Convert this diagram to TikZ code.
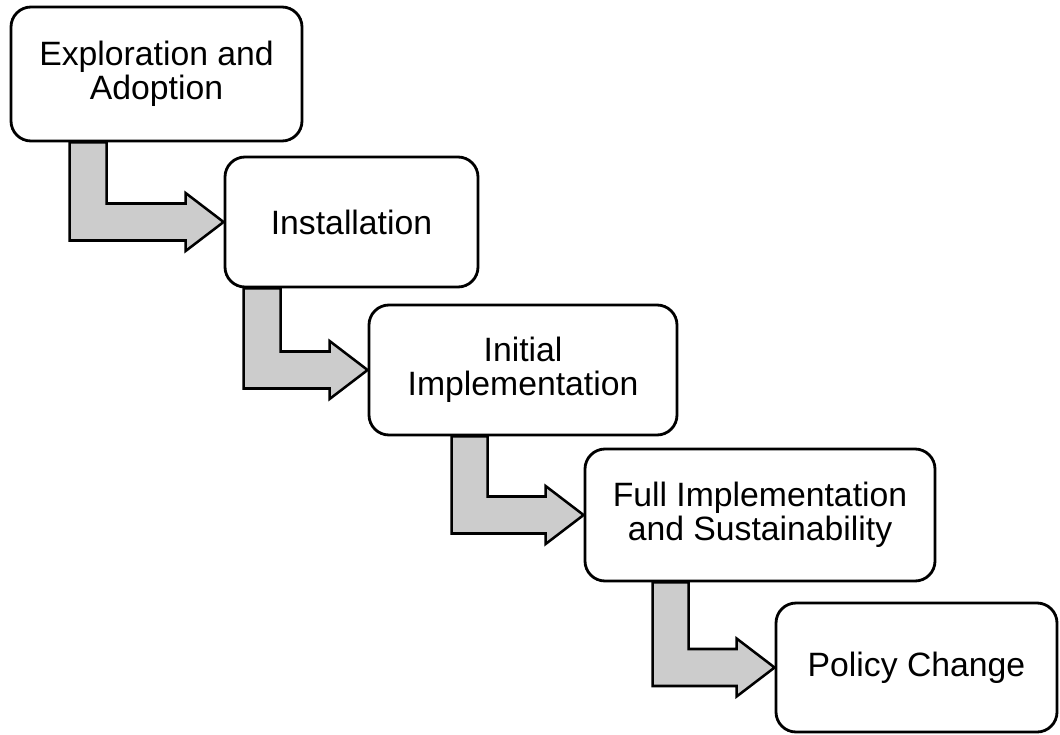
\documentclass[tikz,border=0pt]{standalone}
\usepackage{fontspec}
\setmainfont{Liberation Sans}
\usetikzlibrary{calc,backgrounds}
\definecolor{stepgray}{RGB}{204,204,204}

\begin{document}
\begin{tikzpicture}[phase/.style={draw, line width=2pt, rounded corners=0.5cm, fill=white, align=center, inner sep=0pt, font=\fontsize{24}{24.2}\selectfont},
	flow/.style={draw, line width=1.8pt, fill=stepgray}]
	\useasboundingbox (0,0) rectangle (26.5,-18.35);
	\node[phase, minimum width=7.275cm, minimum height=3.35cm] (Expl) at (3.9125,-1.85) {Exploration and\\Adoption};
	\node[phase, minimum width=6.325cm, minimum height=3.25cm] (Inst) at (8.7875,-5.55) {Installation};
	\node[phase, minimum width=7.7cm, minimum height=3.25cm] (Init) at (13.075,-9.25) {Initial\\Implementation};
	\node[phase, minimum width=8.75cm, minimum height=3.3cm] (Full) at (19.0,-12.875) {Full Implementation\\and Sustainability};
	\node[phase, minimum width=7.025cm, minimum height=3.225cm] (Pol) at (22.9125,-16.6875) {Policy Change};
	\begin{scope}[on background layer]
		\draw[flow] ($(Expl.south west)+(1.5,0)$) |- ($(Inst.west)+(-0.95,-0.4625)$) -- ++(0,-0.2625) -- (Inst.west) -- ++(-0.95,0.725) -- ++(0,-0.2625) -| ($(Expl.south west)+(2.425,0)$) -- cycle;
		\draw[flow] ($(Inst.south west)+(0.5,0)$) |- ($(Init.west)+(-0.95,-0.4625)$) -- ++(0,-0.2625) -- (Init.west) -- ++(-0.95,0.725) -- ++(0,-0.2625) -| ($(Inst.south west)+(1.425,0)$) -- cycle;
		\draw[flow] ($(Init.south west)+(2.1,0)$) |- ($(Full.west)+(-0.95,-0.4625)$) -- ++(0,-0.2625) -- (Full.west) -- ++(-0.95,0.725) -- ++(0,-0.2625) -| ($(Init.south west)+(3.0,0)$) -- cycle;
		\draw[flow] ($(Full.south west)+(1.725,0)$) |- ($(Pol.west)+(-0.95,-0.4625)$) -- ++(0,-0.2625) -- (Pol.west) -- ++(-0.95,0.725) -- ++(0,-0.2625) -| ($(Full.south west)+(2.625,0)$) -- cycle;
	\end{scope}
\end{tikzpicture}
\end{document}
